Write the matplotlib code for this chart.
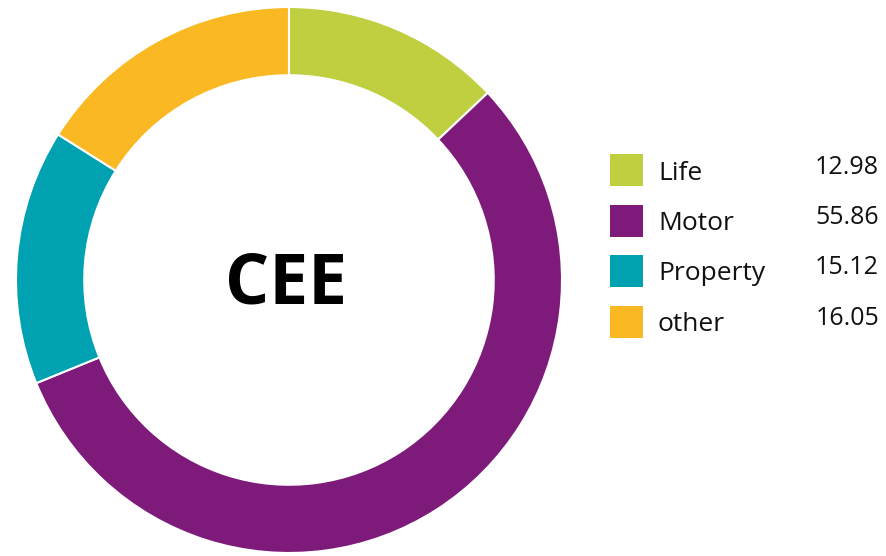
import matplotlib
matplotlib.use("Agg")
import matplotlib.pyplot as plt
from matplotlib.patches import Rectangle

# data
labels = ["Life", "Motor", "Property", "other"]
values = [12.98, 55.86, 15.12, 16.05]
value_text = ["12.98", "55.86", "15.12", "16.05"]
colors = ["#BFCF3F", "#7E1A7A", "#00A2B2", "#FAB922"]

W, H = 887, 556
fig = plt.figure(figsize=(W / 100, H / 100), dpi=100)
plt.rcParams['font.family'] = ['Open Sans', 'DejaVu Sans']

# donut, centre (289, 280) px, radius 273 px
cx, cy, r = 289, 280, 273
ax = fig.add_axes([(cx - r) / W, (H - cy - r) / H, 2 * r / W, 2 * r / H])
ax.pie(values, colors=colors, startangle=90, counterclock=False,
       radius=1.0, wedgeprops=dict(width=0.25, edgecolor="white", linewidth=1.5))
ax.set_xlim(-1, 1)
ax.set_ylim(-1, 1)
ax.set_aspect("equal")
ax.axis("off")
ax.text(-0.01, -0.02, "CEE", ha="center", va="center", fontsize=50,
        fontweight="bold", color="black")

# legend drawn in figure pixel coords
lax = fig.add_axes([0, 0, 1, 1])
lax.set_xlim(0, W)
lax.set_ylim(H, 0)
lax.axis("off")
y0 = 170
step = 50.5
for i, (lab, val, col) in enumerate(zip(labels, value_text, colors)):
    y = y0 + i * step
    lax.add_patch(Rectangle((610, y - 16), 33, 32, facecolor=col, edgecolor="none"))
    lax.text(658, y + 3, lab, ha="left", va="center", fontsize=19, color="#111111")
    lax.text(879, y - 3, val, ha="right", va="center", fontsize=18, color="#111111")

fig.savefig("out.png", dpi=100)
